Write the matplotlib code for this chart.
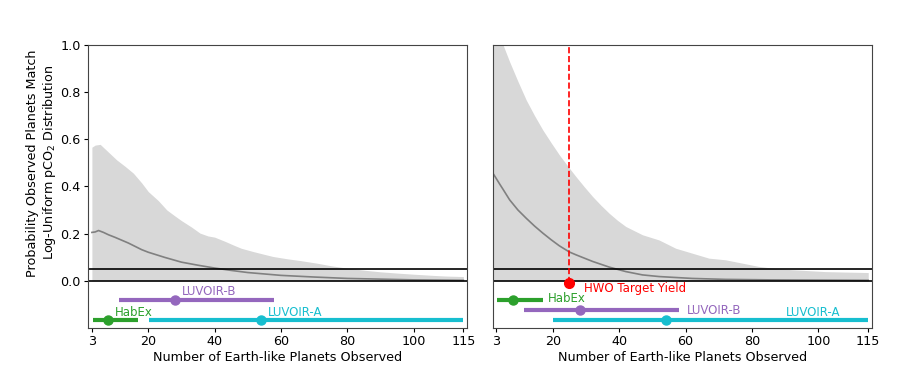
import matplotlib
matplotlib.use("Agg")
import matplotlib.pyplot as plt
import numpy as np

# left panel: log-uniform pCO2, observed-planets probability
x_left = [3, 4, 5.5, 8, 10.5, 13, 15.5, 18, 20, 23, 25.6, 28, 30, 33, 35.6, 38, 40, 43, 45.6, 48,
          51.6, 55, 57.6, 62, 65.7, 70.7, 75, 79.7, 85.7, 90, 95.7, 100, 105.8, 110, 115]
upper_left = [0.566, 0.575, 0.578, 0.545, 0.512, 0.485, 0.456, 0.415, 0.378, 0.34, 0.300, 0.275, 0.255,
              0.228, 0.202, 0.19, 0.185, 0.168, 0.152, 0.138, 0.124, 0.112, 0.103, 0.093, 0.086, 0.075,
              0.064, 0.054, 0.044, 0.038, 0.032, 0.028, 0.023, 0.02, 0.018]
x_med_left = [3, 4, 5, 6.5, 8, 10, 12, 14, 16, 18, 20, 25, 30, 35, 40, 45, 50, 55, 60, 70, 80, 90, 100, 115]
median_left = [0.205, 0.207, 0.213, 0.205, 0.195, 0.184, 0.172, 0.160, 0.146, 0.132, 0.121, 0.099, 0.079,
               0.066, 0.054, 0.044, 0.035, 0.029, 0.023, 0.016, 0.010, 0.007, 0.004, 0.002]

# right panel
x_right = [2.1, 5, 7, 9.5, 12, 14.5, 17, 19.5, 22, 25, 27, 29.5, 32, 34.5, 37, 39.5, 42, 47, 52, 57, 62, 67,
           72, 77, 82, 87, 92, 97, 102, 108, 115]
upper_right = [1.12, 1.0, 0.928, 0.845, 0.766, 0.70, 0.639, 0.585, 0.533, 0.477, 0.441, 0.398, 0.357,
               0.32, 0.286, 0.256, 0.230, 0.195, 0.173, 0.138, 0.117, 0.096, 0.089, 0.075, 0.061, 0.052,
               0.047, 0.043, 0.039, 0.037, 0.035]
x_med_right = [2.1, 4, 5, 7, 9.5, 12, 14.5, 17, 19.5, 22, 25, 27, 32, 37, 42, 47, 52, 62, 72, 85, 100, 115]
median_right = [0.453, 0.41, 0.388, 0.343, 0.300, 0.265, 0.232, 0.202, 0.174, 0.148, 0.122, 0.110, 0.082,
                0.058, 0.039, 0.025, 0.018, 0.010, 0.006, 0.004, 0.003, 0.002]

# mission yield ranges
missions = ["HabEx", "LUVOIR-B", "LUVOIR-A"]
mission_low = [3.2, 11.2, 20.1]
mission_best = [8.0, 28.1, 54.1]
mission_high = [17.0, 58.0, 115.0]
mission_colors = ["tab:green", "tab:purple", "tab:cyan"]
y_left = [-0.168, -0.08, -0.168]
y_right = [-0.08, -0.124, -0.168]

hwo_target = 25

fig = plt.figure(figsize=(8.97, 3.70), dpi=100)
ax1 = fig.add_axes([0.098, 0.1135, 0.423, 0.7655])
ax2 = fig.add_axes([0.550, 0.1135, 0.422, 0.7655])

for ax, xu, up, xm, med in [(ax1, x_left, upper_left, x_med_left, median_left),
                            (ax2, x_right, upper_right, x_med_right, median_right)]:
    ax.fill_between(xu, 0, up, color="#d8d8d8", lw=0)
    ax.plot(xm, med, color="gray", lw=1.2)
    ax.axhline(0.05, color="black", lw=1.2)
    ax.axhline(0.0, color="black", lw=1.2)
    ax.set_ylim(-0.2, 1.0)
    ax.set_xticks([3, 20, 40, 60, 80, 100, 115])
    ax.set_xlabel("Number of Earth-like Planets Observed", fontsize=9.2, labelpad=2)
    ax.tick_params(labelsize=9.2, length=2.8, pad=2.5)
    for s in ax.spines.values():
        s.set_color("#444444")

ax1.set_xlim(1.8, 116.2)
ax2.set_xlim(2.1, 116.1)

for i in range(3):
    ax1.plot([mission_low[i], mission_high[i]], [y_left[i]] * 2, color=mission_colors[i], lw=3,
             solid_capstyle="butt")
    ax1.plot(mission_best[i], y_left[i], "o", color=mission_colors[i], ms=6.5)
    ax1.text(mission_best[i] + 2, y_left[i] + 0.034, missions[i], color=mission_colors[i],
             fontsize=8.5, va="center", ha="left")

    ax2.plot([mission_low[i], mission_high[i]], [y_right[i]] * 2, color=mission_colors[i], lw=3,
             solid_capstyle="butt")
    ax2.plot(mission_best[i], y_right[i], "o", color=mission_colors[i], ms=6.5)

ax2.text(mission_high[0] + 1.4, y_right[0] + 0.005, missions[0], color=mission_colors[0],
         fontsize=8.5, va="center", ha="left")
ax2.text(mission_high[1] + 2.3, y_right[1], missions[1], color=mission_colors[1],
         fontsize=8.5, va="center", ha="left")
ax2.text(90.2, y_right[2] + 0.035, missions[2], color=mission_colors[2],
         fontsize=8.5, va="center", ha="left")

ax2.axvline(hwo_target, ymin=(-0.01 + 0.2) / 1.2, ymax=1, color="red", ls="--", lw=1.2)
ax2.plot(hwo_target, -0.01, "o", color="red", ms=7)
ax2.text(hwo_target + 4.3, -0.034, "HWO Target Yield", color="red", fontsize=8.5, va="center", ha="left")

ax1.set_yticks([0, 0.2, 0.4, 0.6, 0.8, 1.0])
ax1.set_ylabel("Probability Observed Planets Match\nLog-Uniform pCO$_2$ Distribution", fontsize=9.2)
# label is centred on the 0..1 part of the axis
ax1.yaxis.set_label_coords(-0.078, 0.583)
ax2.set_yticks([])

fig.savefig("out.png", dpi=100)
